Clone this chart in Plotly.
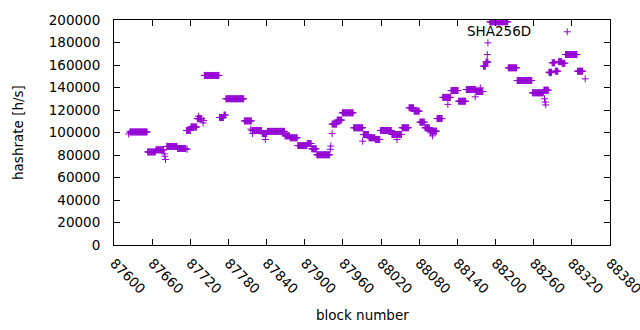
import plotly.graph_objects as go

# ---- data ----
x_ticks = [87600, 87660, 87720, 87780, 87840, 87900, 87960, 88020, 88080,
           88140, 88200, 88260, 88320, 88380]
y_ticks = [0, 20000, 40000, 60000, 80000, 100000, 120000, 140000, 160000,
           180000, 200000]

# runs of blocks that share one hashrate value
seg_start = [87625, 87653, 87666, 87683, 87700, 87714, 87721, 87731, 87742, 87766,
             87773, 87776, 87805, 87817, 87833, 87841, 87869, 87877, 87889, 87904,
             87911, 87919, 87943, 87951, 87959, 87977, 87992, 88001, 88011, 88019,
             88037, 88053, 88064, 88072, 88081, 88089, 88097, 88108, 88117, 88130,
             88142, 88154, 88170, 88181, 88185, 88191, 88220, 88234, 88258, 88276,
             88284, 88289, 88294, 88299, 88305, 88310, 88329]
seg_end = [87652, 87665, 87678, 87699, 87713, 87720, 87730, 87738, 87765, 87772,
           87775, 87804, 87816, 87832, 87840, 87868, 87876, 87888, 87903, 87910,
           87918, 87939, 87950, 87958, 87976, 87991, 88000, 88010, 88018, 88036,
           88052, 88063, 88071, 88080, 88088, 88096, 88107, 88116, 88129, 88141,
           88153, 88169, 88180, 88184, 88188, 88219, 88233, 88257, 88275, 88283,
           88288, 88293, 88298, 88304, 88309, 88328, 88337]
seg_value = [100500, 82700, 84600, 87600, 85800, 101800, 104900, 112300, 150700, 113300,
             115500, 130000, 110300, 101800, 99000, 101000, 97000, 95300, 88400, 90200,
             85500, 80200, 107500, 111000, 117500, 104200, 98200, 95300, 93800, 101800,
             98200, 104200, 122000, 119000, 109200, 104200, 101200, 112400, 131200, 137300,
             127800, 138200, 136400, 159000, 162700, 198400, 157500, 146200, 135300, 137600,
             153500, 162000, 154500, 163000, 161500, 169300, 154500]

# single blocks off their run
out_block = [87623, 87679, 87680, 87681, 87715, 87733, 87740, 87741, 87815, 87818,
             87838, 87940, 87941, 87943, 87991, 88045, 88098, 88101, 88125, 88168,
             88176, 88187, 88188, 88277, 88278, 88279, 88286, 88341]
out_value = [98700, 81000, 78900, 76000, 85000, 114500, 108600, 110700, 103000, 99000,
             93800, 85000, 88000, 99000, 92300, 93800, 99700, 97000, 125000, 131700,
             139700, 169300, 179700, 130000, 127000, 124500, 153000, 147700]

series_name = "SHA256D"

# ---- build points ----
xs, ys = [], []
for s, e, v in zip(seg_start, seg_end, seg_value):
    for b in range(s, e + 1):
        xs.append(b)
        ys.append(v)
xs += out_block
ys += out_value

COL = "#9400D3"
FONT = "DejaVu Sans"
FS = 13.5

fig = go.Figure()
fig.add_trace(go.Scatter(
    x=xs, y=ys, mode="markers", name=series_name, showlegend=False,
    hoverinfo="skip",
    marker=dict(symbol="cross-thin", size=5, color=COL,
                line=dict(width=1, color=COL)),
))

axis_common = dict(
    showgrid=False, zeroline=False, showline=True, linecolor="black",
    linewidth=1, mirror="ticks", ticks="inside", ticklen=6, tickcolor="black",
    tickfont=dict(family=FONT, size=FS, color="black"), tickformat="d",
    automargin=False, ticklabeloverflow="allow",
)
fig.update_xaxes(range=[x_ticks[0], x_ticks[-1]], tickmode="array",
                 tickvals=x_ticks, ticktext=[str(t) for t in x_ticks],
                 tickangle=45, ticklabelstandoff=4, **axis_common)
fig.update_yaxes(range=[y_ticks[0], y_ticks[-1]], tickmode="array",
                 tickvals=y_ticks, ticktext=[str(t) for t in y_ticks],
                 ticklabelstandoff=10, **axis_common)

# key: text then sample, gnuplot style
kx, ky = 0.9138, 0.9476
fig.add_annotation(x=0.845, y=0.949, xref="paper", yref="paper",
                   text=series_name, showarrow=False, xanchor="right",
                   yanchor="middle", font=dict(family=FONT, size=FS, color="black"))
fig.add_shape(type="line", xref="paper", yref="paper", x0=kx - 0.00707, x1=kx + 0.00707,
              y0=ky, y1=ky, line=dict(color=COL, width=1))
fig.add_shape(type="line", xref="paper", yref="paper", x0=kx, x1=kx,
              y0=ky - 0.01556, y1=ky + 0.01556, line=dict(color=COL, width=1))

fig.add_annotation(x=-0.1946, y=0.5, xref="paper", yref="paper",
                   text="hashrate [h/s]", textangle=-90, showarrow=False,
                   xanchor="center", yanchor="middle",
                   font=dict(family=FONT, size=FS, color="black"))
fig.add_annotation(x=0.5, y=-0.309, xref="paper", yref="paper",
                   text="block number", showarrow=False,
                   xanchor="center", yanchor="middle",
                   font=dict(family=FONT, size=FS, color="black"))

fig.update_layout(width=640, height=330, margin=dict(l=114, r=30, t=20, b=85),
                  plot_bgcolor="white", paper_bgcolor="white", hovermode=False)
fig.write_html("out.html", config={"displayModeBar": False, "staticPlot": True},
               post_script="document.body.style.margin='0';"
                           "document.body.style.overflow='hidden';")
